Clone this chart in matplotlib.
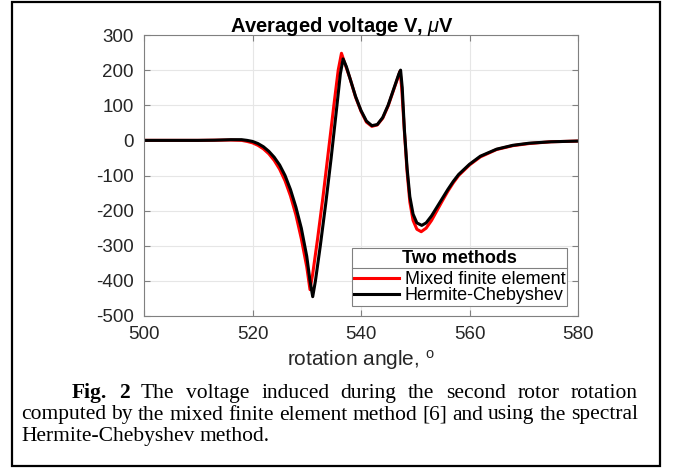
import matplotlib
matplotlib.use("Agg")
import matplotlib.pyplot as plt
from matplotlib.lines import Line2D
from matplotlib.patches import Rectangle

plt.rcParams["font.family"] = ["Liberation Sans", "DejaVu Sans"]
plt.rcParams["mathtext.fontset"] = "custom"
plt.rcParams["mathtext.rm"] = "Liberation Sans"
plt.rcParams["mathtext.it"] = "Liberation Sans:italic"
plt.rcParams["mathtext.bf"] = "Liberation Sans:bold"
plt.rcParams["axes.unicode_minus"] = False

# Mixed finite element (red)
angle_fem = [500, 505, 510, 513, 516, 518, 519, 520, 521, 522, 523, 524, 525,
             526, 527, 528, 529, 530, 530.6, 531.1, 532, 533, 534, 535, 535.8,
             536.4, 537, 538, 539, 540, 541, 542, 543, 544, 545, 546, 547,
             547.2, 547.5, 548, 548.5, 549, 549.6, 550.3, 551.1, 552, 553,
             554, 555, 556, 557, 558, 560, 562, 565, 568, 571, 575, 580]
volt_fem = [0, 0, 0, 0.5, 1, 0, -3, -7, -14, -24, -38, -57, -82,
            -115, -158, -212, -280, -360, -425, -380, -280, -160, -30, 100, 200,
            248, 220, 175, 123, 83, 52, 40, 44, 63, 98, 143, 188,
            197, 150, 25, -90, -175, -228, -253, -260, -250, -228,
            -200, -172, -145, -121, -100, -70, -47, -26, -15, -9, -4, -2]

# Hermite-Chebyshev (black)
angle_hc = [500, 505, 510, 513, 516, 518, 519, 520, 521, 522, 523, 524, 525,
            526, 527, 528, 529, 530, 530.6, 531.1, 531.6, 532.5, 533.5, 534.5,
            535.5, 536.2, 536.7, 537.3, 538, 539, 540, 541, 542, 543, 544, 545,
            546, 547, 547.3, 547.6, 548, 548.5, 549, 549.6, 550.3, 551.2, 552,
            553, 554, 555, 556, 557, 558, 560, 562, 565, 568, 571, 575, 580]
volt_hc = [0, 0, 0, 0.5, 2, 2, 0, -3, -9, -18, -31, -48, -70,
           -100, -140, -190, -250, -330, -400, -445, -400, -300, -180, -50,
           90, 190, 232, 210, 175, 125, 85, 55, 42, 45, 65, 100,
           145, 190, 200, 150, 30, -80, -160, -210, -235, -242, -235,
           -215, -190, -165, -140, -117, -97, -68, -45, -25, -14, -8, -4, -2]

x_ticks = [500, 520, 540, 560, 580]
y_ticks = [-500, -400, -300, -200, -100, 0, 100, 200, 300]

title = "Averaged voltage V, $\\mu$V"
xlabel = "rotation angle, $^{\\mathrm{o}}$"
legend_title = "Two methods"
labels = ["Mixed finite element", "Hermite-Chebyshev"]

caption_lines = [
    "Fig. 2 The voltage induced during the second rotor rotation",
    "computed by the mixed finite element method [6] and using the spectral",
    "Hermite-Chebyshev method.",
]

W, H = 676, 470
GRAY = "#808080"
INK = "#262626"

fig = plt.figure(figsize=(W / 100, H / 100), dpi=100)
fig.patch.set_facecolor("white")
ax = fig.add_axes([144 / W, 1 - 316 / H, (578 - 144) / W, (316 - 35) / H])

ax.plot(angle_fem, volt_fem, color="#ff0000", lw=2.2, label=labels[0])
ax.plot(angle_hc, volt_hc, color="black", lw=2.2, label=labels[1])

ax.set_xlim(500, 580)
ax.set_ylim(-500, 300)
ax.set_xticks(x_ticks)
ax.set_yticks(y_ticks)
ax.grid(True, color="#e6e6e6", lw=0.8)
ax.set_axisbelow(True)
for s in ax.spines.values():
    s.set_color(GRAY)
    s.set_linewidth(0.8)
ax.tick_params(direction="in", length=4, width=0.8, color=GRAY,
               top=True, right=True, labelsize=13.5, labelcolor=INK)
ax.tick_params(axis="y", pad=7.5)
ax.tick_params(axis="x", pad=7)

fig.text(342 / W, 1 - 32 / H, title, fontsize=14.5, fontweight="bold",
         ha="center", va="baseline")
ax.set_xlabel(xlabel, fontsize=15, color=INK, labelpad=4)

leg = ax.legend(loc="lower right", bbox_to_anchor=(0.975, 0.036),
                title=legend_title, fontsize=13,
                title_fontproperties={"weight": "bold", "size": 13},
                fancybox=False, framealpha=1, edgecolor=GRAY, borderpad=0.1,
                handlelength=2.5, handleheight=0.5, handletextpad=0.3,
                labelspacing=-0.05, borderaxespad=0)
leg.get_frame().set_linewidth(0.8)
leg._legend_box.sep = 3

fig.canvas.draw()
r = fig.canvas.get_renderer()
fb = leg.get_frame().get_window_extent(r)
tb = leg.get_title().get_window_extent(r)
sep_y = tb.y0 - 1.5
fig.add_artist(Line2D([fb.x0 / W, fb.x1 / W], [sep_y / H, sep_y / H],
                      transform=fig.transFigure, color=GRAY, lw=0.8))

# caption, justified like the paper's text block
serif = ["Liberation Serif", "DejaVu Serif"]


def place_line(words, x0, x1, y, bold_count=0, justify=True):
    texts = []
    for i, w in enumerate(words):
        t = fig.text(0, 1 - y / H, w, family=serif, fontsize=15.5,
                     fontweight="bold" if i < bold_count else "normal", va="baseline")
        texts.append(t)
    widths = [t.get_window_extent(r).width for t in texts]
    space = texts[0].get_fontsize() * 0.25 * 100 / 72
    gap = (x1 - x0 - sum(widths)) / (len(words) - 1) if justify and len(words) > 1 else space
    x = x0
    for t, w in zip(texts, widths):
        t.set_x(x / W)
        x += w + gap


place_line(caption_lines[0].split(), 72, 638, 398, bold_count=2)
place_line(caption_lines[1].split(), 21, 638, 419.5)
place_line(caption_lines[2].split(), 21, 638, 441, justify=False)

fig.add_artist(Rectangle((12 / W, 1 - 466 / H), (660 - 12) / W, (466 - 2) / H,
                         transform=fig.transFigure, fill=False, edgecolor="black", lw=1.6))

fig.savefig("out.png", dpi=100, facecolor="white")
